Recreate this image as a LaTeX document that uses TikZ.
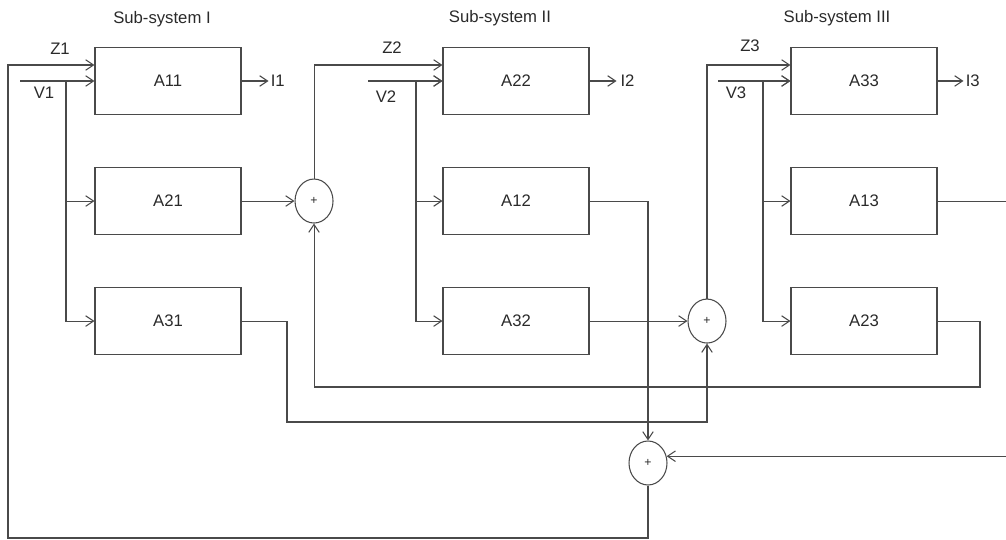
\documentclass[tikz,border=0pt]{standalone}
\usepackage{fontspec}
\setmainfont{Liberation Sans}
\usetikzlibrary{arrows.meta,positioning,shapes.geometric}
\definecolor{ink}{HTML}{4A4A4A}
\definecolor{txt}{HTML}{2A2A2A}

\begin{document}
\begin{tikzpicture}[x=0.02cm,y=-0.02cm,line width=.6pt,color=ink,
    node distance=1.04cm and 4.02cm,
    every node/.style={font=\fontsize{9.5}{11}\selectfont,text=txt},
    blk/.style={draw,minimum width=2.92cm,minimum height=1.34cm,inner sep=0pt},
    sum/.style={draw,ellipse,minimum width=.76cm,minimum height=.88cm,inner sep=0pt,font=\scriptsize},
    arr/.style={-{Straight Barb[length=4.5pt,width=6pt]}}]
    \useasboundingbox (0,0) rectangle (1006,540);
    % sub-system titles
    \node (t1) at (162,19) {Sub-system I};
    \node (t2) at (500,18) {Sub-system II};
    \node (t3) at (837,18) {Sub-system III};
    % blocks
    \node[blk] (a11) at (168,81) {A11};
    \node[blk,below=of a11] (a21) {A21};
    \node[blk,below=of a21] (a31) {A31};
    \node[blk,right=of a11] (a22) {A22};
    \node[blk,below=of a22] (a12) {A12};
    \node[blk,below=of a12] (a32) {A32};
    \node[blk,right=of a22] (a33) {A33};
    \node[blk,below=of a33] (a13) {A13};
    \node[blk,below=of a13] (a23) {A23};
    % summing points
    \node[sum,right=1.06cm of a21] (s1) {+};
    \node[sum,right=1.96cm of a32] (s2) {+};
    \node[sum] (s3) at (648,463) {+};
    % inputs
    \coordinate (v1) at (20,81);
    \coordinate (v2) at (368,81);
    \coordinate (v3) at (718,81);
    \coordinate (j1) at (66,81);
    \coordinate (j2) at (416,81);
    \coordinate (j3) at (763,81);
    \coordinate (e1) at (1006,200);
    \coordinate (e2) at (1006,456);
    \node (z1) at (60,49) {Z1};
    \node (z2) at (392,48) {Z2};
    \node (z3) at (750,46) {Z3};
    \node (l1) at (44,93) {V1};
    \node (l2) at (386,97) {V2};
    \node (l3) at (736,93) {V3};
    \foreach \v/\b in {v1/a11,v2/a22,v3/a33} \draw[arr] (\v) -- (\b.west);
    \foreach \j/\n in {1/1,2/2,3/3} {
      \draw[arr] (j\j) |- (a2\n.west);
      \draw[arr] (j\j) |- (a3\n.west);
    }
    \draw[arr] (j2) |- (a12.west);
    \draw[arr] (j3) |- (a13.west);
    % outputs
    \draw[arr] (a11.east) -- ++(27,0) node[right,inner sep=1pt] (o1) {I1};
    \draw[arr] (a22.east) -- ++(27,0) node[right,inner sep=2pt] (o2) {I2};
    \draw[arr] (a33.east) -- ++(26,0) node[right,inner sep=1pt] (o3) {I3};
    % couplings
    \draw[arr] (a21.east) -- (s1.west);
    \draw[arr] (a32.east) -- (s2.west);
    \draw[arr] (a12.east) -| (s3.north);
    \draw[arr] (a23.east) -| (980,387) -| (s1.south);
    \draw[arr] (a31.east) -| (287,422) -| (s2.south);
    \draw[arr] (s1.north) |- ([yshift=.32cm]a22.west);
    \draw[arr] (s2.north) |- ([yshift=.32cm]a33.west);
    \draw[arr] (s3.south) |- (8,538) |- ([yshift=.32cm]a11.west);
    \draw (a13.east) -- (a13.east -| e1);
    \draw[arr] (e2 |- s3.20) -- (s3.20);
\end{tikzpicture}
\end{document}
